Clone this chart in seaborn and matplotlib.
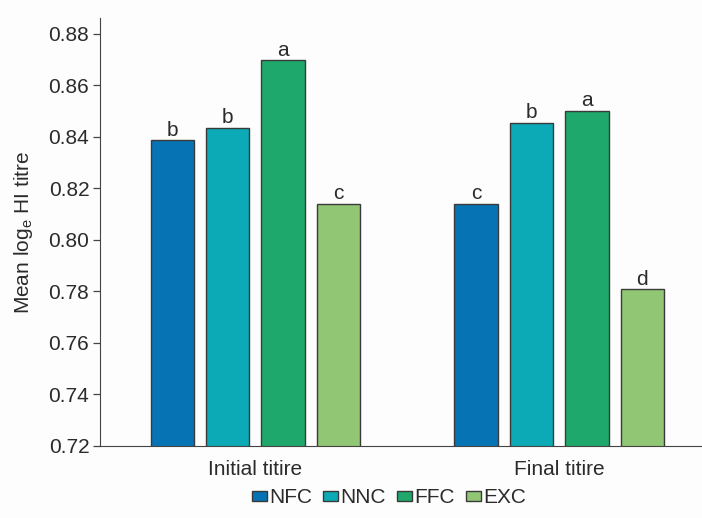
import pandas as pd
import matplotlib
matplotlib.use("Agg")
import matplotlib.pyplot as plt
import seaborn as sns

# data
titres = ["Initial titire", "Final titire"]
groups = ["NFC", "NNC", "FFC", "EXC"]
nfc = [0.8386, 0.8139]
nnc = [0.8434, 0.8453]
ffc = [0.8696, 0.8501]
exc = [0.8139, 0.7808]
letters_nfc = ["b", "c"]
letters_nnc = ["b", "b"]
letters_ffc = ["a", "a"]
letters_exc = ["c", "d"]

colors = ["#0573b4", "#0ca9b6", "#1ea86b", "#91c674"]

rows = []
for g, vals in zip(groups, [nfc, nnc, ffc, exc]):
    for t, v in zip(titres, vals):
        rows.append({"Titre": t, "Group": g, "Value": v})
df = pd.DataFrame(rows)
letters = [letters_nfc, letters_nnc, letters_ffc, letters_exc]

sns.set_style("ticks")
plt.rcParams["font.family"] = ["Liberation Sans", "DejaVu Sans"]
txt = "#2b2b2b"
fs = 15

fig, ax = plt.subplots(figsize=(7.02, 5.18), dpi=100)
fig.patch.set_facecolor("#fdfdfd")
ax.set_facecolor("#fdfdfd")
fig.subplots_adjust(left=0.143, right=1.0, top=0.965, bottom=0.139)

sns.barplot(data=df, x="Titre", y="Value", hue="Group", order=titres,
            hue_order=groups, palette=colors, saturation=1, width=0.73, gap=0.22,
            edgecolor="#3a3a3a", linewidth=1.0, ax=ax)

for cont, labs in zip(ax.containers, letters):
    for bar, lab in zip(cont, labs):
        ax.text(bar.get_x() + bar.get_width() / 2, bar.get_height() + 0.0003,
                lab, ha="center", va="bottom", fontsize=fs, color=txt)

ax.set_ylim(0.72, 0.886)
ax.set_xlim(-0.51, 1.47)
ax.set_yticks([0.72, 0.74, 0.76, 0.78, 0.80, 0.82, 0.84, 0.86, 0.88])
ax.set_yticklabels([f"{v:.2f}" for v in ax.get_yticks()])
ax.set_xlabel("")
ax.set_ylabel("Mean log$_\\mathregular{e}$ HI titre", fontsize=fs, color=txt, labelpad=10)
ax.tick_params(axis="y", labelsize=fs, length=5, width=0.9, colors="#444444",
               labelcolor=txt, pad=3)
ax.tick_params(axis="x", labelsize=fs, length=0, pad=10, labelcolor=txt)
sns.despine(ax=ax)
ax.spines["left"].set_color("#444444")
ax.spines["bottom"].set_color("#444444")

ax.legend(loc="upper center", bbox_to_anchor=(0.48, -0.055), ncol=4,
          frameon=False, fontsize=fs, handlelength=0.72, handleheight=0.34,
          handletextpad=0.1, columnspacing=0.55, labelcolor=txt)

fig.savefig("out.png", dpi=100, facecolor=fig.get_facecolor())
